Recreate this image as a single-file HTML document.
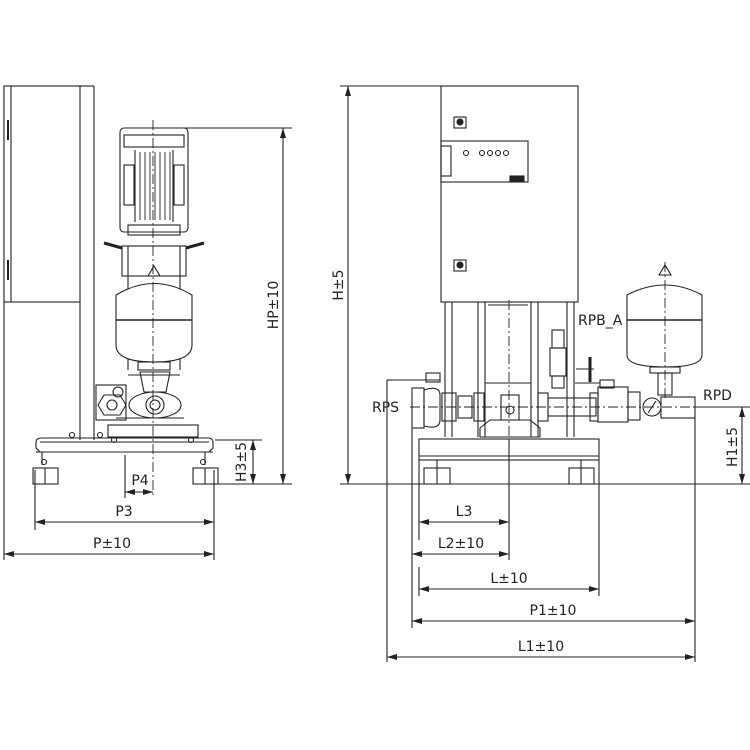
<!DOCTYPE html>
<html><head><meta charset="utf-8"><style>
html,body{margin:0;padding:0;background:#fff;}
svg{display:block}
text{font-family:"DejaVu Sans","Liberation Sans",sans-serif;font-size:14px;fill:#222}
</style></head><body>
<svg width="750" height="750" viewBox="0 0 750 750" xmlns="http://www.w3.org/2000/svg">
<defs>
<marker id="a" viewBox="0 0 10 6" refX="10" refY="3" markerWidth="10" markerHeight="6" orient="auto-start-reverse" markerUnits="userSpaceOnUse"><path d="M0,0 L10,3 L0,6 z" fill="#222"/></marker>
</defs>
<g stroke="#222" stroke-width="1.1" fill="none">
<!-- LEFT VIEW -->
<line x1="4" y1="86" x2="4" y2="560"/>
<rect x="4" y="86" width="76" height="216" fill="#fff"/>
<line x1="11" y1="86" x2="11" y2="302"/>
<line x1="8" y1="120" x2="8" y2="140" stroke-width="2"/>
<line x1="8" y1="260" x2="8" y2="280" stroke-width="2"/>
<line x1="80" y1="86" x2="94" y2="86"/>
<line x1="94" y1="86" x2="94" y2="440"/>
<line x1="80" y1="302" x2="80" y2="440"/>
<!-- motor -->
<rect x="120" y="128" width="68" height="104" rx="4"/>
<rect x="124" y="135" width="60" height="12"/>
<line x1="135" y1="150" x2="135" y2="222"/><line x1="173" y1="150" x2="173" y2="222"/>
<g stroke-width="0.9">
<line x1="140" y1="152" x2="140" y2="220"/><line x1="145" y1="152" x2="145" y2="220"/><line x1="150" y1="152" x2="150" y2="220"/><line x1="155" y1="152" x2="155" y2="220"/><line x1="160" y1="152" x2="160" y2="220"/><line x1="165" y1="152" x2="165" y2="220"/><line x1="170" y1="152" x2="170" y2="220"/>
</g>
<rect x="124" y="165" width="10" height="40"/><rect x="174" y="165" width="10" height="40"/>
<rect x="128" y="225" width="52" height="10"/>
<path d="M104,243 L122,248 M204,243 L186,248" stroke-width="3"/>
<rect x="122" y="246" width="64" height="30"/>
<line x1="128" y1="246" x2="128" y2="370"/><line x1="180" y1="246" x2="180" y2="370"/>
<!-- tank -->
<path d="M116,295 Q154,272 192,295 L192,345 Q192,362 154,362 Q116,362 116,345 Z" fill="#fff"/>
<path d="M148,276 L154,266 L160,276 Z"/>
<line x1="116" y1="320" x2="192" y2="320" stroke-width="1.6"/>
<rect x="138" y="362" width="32" height="8"/>
<!-- pump body -->
<rect x="96" y="385" width="30" height="35"/>
<circle cx="118" cy="392" r="5"/>
<path d="M104,395 L120,395 L126,405 L120,415 L104,415 L98,405 Z"/>
<circle cx="112" cy="405" r="5"/>
<ellipse cx="155" cy="405" rx="26" ry="13"/>
<circle cx="155" cy="405" r="9"/><circle cx="155" cy="405" r="5"/>
<path d="M140,372 L170,372 L166,392 L144,392 Z"/>
<line x1="128" y1="375" x2="180" y2="375"/>
<line x1="116" y1="418" x2="184" y2="418"/>
<rect x="108" y="425" width="90" height="12"/>
<!-- base -->
<path d="M40,452 L36,448 L36,442 Q36,438 42,438 L208,438 Q213,438 213,442 L213,448 L209,452"/>
<line x1="40" y1="442" x2="209" y2="442"/>
<line x1="36" y1="452" x2="213" y2="452"/>
<rect x="33" y="468" width="25" height="16"/><line x1="45" y1="468" x2="45" y2="484"/>
<rect x="193" y="468" width="25" height="16"/><line x1="205" y1="468" x2="205" y2="484"/>
<path d="M42,452 L42,465 M205,452 L205,465"/>
<circle cx="72" cy="435" r="2.5"/><circle cx="100" cy="435" r="2.5"/><circle cx="114" cy="440" r="2.5"/><circle cx="191" cy="440" r="2.5"/>
<circle cx="44" cy="462" r="2.5"/><circle cx="203" cy="462" r="2.5"/>
<!-- centre line -->
<line x1="153" y1="120" x2="153" y2="498" stroke-dasharray="10,3,2,3" stroke-width="0.9"/>
<line x1="125" y1="455" x2="125" y2="498"/>
<!-- dims left -->
<line x1="185" y1="128" x2="292" y2="128"/>
<line x1="210" y1="484" x2="292" y2="484"/>
<line x1="215" y1="440" x2="262" y2="440"/>
<line x1="283" y1="128" x2="283" y2="484" marker-start="url(#a)" marker-end="url(#a)"/>
<line x1="253" y1="440" x2="253" y2="484" marker-start="url(#a)" marker-end="url(#a)"/>
<line x1="125" y1="492" x2="153" y2="492" marker-start="url(#a)" marker-end="url(#a)"/>
<line x1="35" y1="470" x2="35" y2="530"/><line x1="214" y1="470" x2="214" y2="560"/>
<line x1="35" y1="522" x2="214" y2="522" marker-start="url(#a)" marker-end="url(#a)"/>
<line x1="4" y1="554" x2="214" y2="554" marker-start="url(#a)" marker-end="url(#a)"/>

<!-- RIGHT VIEW -->
<rect x="441" y="86" width="137" height="216" fill="#fff"/>
<rect x="441" y="141" width="87" height="41"/>
<rect x="441" y="146" width="10" height="30"/>
<rect x="510" y="176" width="14" height="5" fill="#222"/>
<circle cx="466" cy="153" r="2.5"/>
<circle cx="482" cy="153" r="2.5"/><circle cx="490" cy="153" r="2.5"/><circle cx="498" cy="153" r="2.5"/><circle cx="506" cy="153" r="2.5"/>
<rect x="454" y="117" width="12" height="11"/><circle cx="460" cy="122" r="3" fill="#222"/>
<rect x="454" y="260" width="12" height="11"/><circle cx="460" cy="265" r="3" fill="#222"/>
<!-- legs -->
<line x1="445" y1="302" x2="445" y2="437"/><line x1="452" y1="302" x2="452" y2="437"/>
<line x1="478" y1="302" x2="478" y2="437"/><line x1="485" y1="302" x2="485" y2="437"/>
<line x1="531" y1="302" x2="531" y2="437"/><line x1="538" y1="302" x2="538" y2="437"/>
<line x1="567" y1="302" x2="567" y2="437"/><line x1="574" y1="302" x2="574" y2="437"/>
<line x1="488" y1="305" x2="528" y2="305"/>
<line x1="485" y1="383" x2="531" y2="383"/>
<rect x="501" y="395" width="18" height="25"/><circle cx="510" cy="410" r="4"/>
<path d="M480,437 L480,428 L490,420 L530,420 L540,428 L540,437 Z"/>
<!-- RPS valve -->
<line x1="387" y1="380" x2="392" y2="380"/>
<path d="M392,380 L440,380"/>
<rect x="426" y="373" width="14" height="9"/>
<rect x="412" y="388" width="12" height="40"/>
<path d="M424,390 Q440,385 440,395 L440,420 Q440,430 424,426 Z"/>
<rect x="442" y="393" width="14" height="28"/>
<rect x="458" y="396" width="14" height="22"/>
<rect x="474" y="393" width="10" height="28"/>
<!-- right pipes -->
<rect x="538" y="393" width="10" height="28"/>
<rect x="548" y="398" width="48" height="18"/>
<rect x="590" y="393" width="8" height="28"/>
<rect x="598" y="387" width="30" height="35"/>
<rect x="628" y="392" width="12" height="28"/>
<circle cx="652" cy="407" r="9"/><line x1="648" y1="413" x2="656" y2="401"/>
<rect x="661" y="397" width="34" height="21"/>
<rect x="600" y="380" width="14" height="8"/>
<line x1="575" y1="383" x2="600" y2="383"/>
<!-- RPB_A valve -->
<rect x="552" y="330" width="12" height="18"/>
<rect x="550" y="348" width="16" height="28"/>
<rect x="552" y="376" width="12" height="12"/>
<line x1="576" y1="369" x2="594" y2="369"/>
<line x1="590" y1="357" x2="590" y2="382" stroke-width="3"/>
<!-- right tank -->
<path d="M627,295 Q665,275 702,295 L702,355 Q702,367 665,367 Q627,367 627,355 Z" fill="#fff"/>
<path d="M659,275 L665,265 L671,275 Z"/>
<line x1="627" y1="320" x2="702" y2="320" stroke-width="1.6"/>
<rect x="650" y="367" width="30" height="6"/>
<rect x="658" y="373" width="14" height="22"/>
<!-- base -->
<rect x="419" y="439" width="180" height="21"/>
<line x1="419" y1="456" x2="599" y2="456"/>
<rect x="424" y="468" width="26" height="16"/><line x1="437" y1="468" x2="437" y2="484"/>
<rect x="569" y="468" width="25" height="16"/><line x1="581" y1="468" x2="581" y2="484"/>
<line x1="437" y1="460" x2="437" y2="468"/><line x1="581" y1="460" x2="581" y2="468"/>
<!-- centre lines -->
<line x1="410" y1="407" x2="720" y2="407" stroke-dasharray="10,3,2,3" stroke-width="0.9"/>
<line x1="509" y1="300" x2="509" y2="440" stroke-dasharray="10,3,2,3" stroke-width="0.9"/>
<line x1="665" y1="262" x2="665" y2="400" stroke-dasharray="10,3,2,3" stroke-width="0.9"/>
<line x1="509" y1="440" x2="509" y2="560"/>
<!-- ground / dims -->
<line x1="340" y1="484" x2="750" y2="484"/>
<line x1="340" y1="86" x2="441" y2="86"/>
<line x1="348" y1="86" x2="348" y2="484" marker-start="url(#a)" marker-end="url(#a)"/>
<line x1="695" y1="407" x2="750" y2="407"/>
<line x1="742" y1="407" x2="742" y2="484" marker-start="url(#a)" marker-end="url(#a)"/>
<line x1="387" y1="380" x2="387" y2="662"/>
<line x1="412" y1="428" x2="412" y2="628"/>
<line x1="419" y1="460" x2="419" y2="540"/>
<line x1="419" y1="567" x2="419" y2="596"/>
<line x1="599" y1="460" x2="599" y2="596"/>
<line x1="695" y1="418" x2="695" y2="662"/>
<line x1="419" y1="522" x2="509" y2="522" marker-start="url(#a)" marker-end="url(#a)"/>
<line x1="412" y1="554" x2="509" y2="554" marker-start="url(#a)" marker-end="url(#a)"/>
<line x1="419" y1="589" x2="599" y2="589" marker-start="url(#a)" marker-end="url(#a)"/>
<line x1="412" y1="621" x2="695" y2="621" marker-start="url(#a)" marker-end="url(#a)"/>
<line x1="387" y1="657" x2="695" y2="657" marker-start="url(#a)" marker-end="url(#a)"/>
</g>
<!-- labels -->
<text x="278" y="305" transform="rotate(-90 278 305)" text-anchor="middle">HP±10</text>
<text x="246" y="462" transform="rotate(-90 246 462)" text-anchor="middle">H3±5</text>
<text x="140" y="485" text-anchor="middle">P4</text>
<text x="124" y="516" text-anchor="middle">P3</text>
<text x="112" y="548" text-anchor="middle">P±10</text>
<text x="343" y="285" transform="rotate(-90 343 285)" text-anchor="middle">H±5</text>
<text x="737" y="447" transform="rotate(-90 737 447)" text-anchor="middle">H1±5</text>
<text x="372" y="412">RPS</text>
<text x="703" y="400">RPD</text>
<text x="578" y="325">RPB_A</text>
<text x="464" y="516" text-anchor="middle">L3</text>
<text x="461" y="548" text-anchor="middle">L2±10</text>
<text x="509" y="583" text-anchor="middle">L±10</text>
<text x="553" y="615" text-anchor="middle">P1±10</text>
<text x="541" y="651" text-anchor="middle">L1±10</text>
</svg>
</body></html>
